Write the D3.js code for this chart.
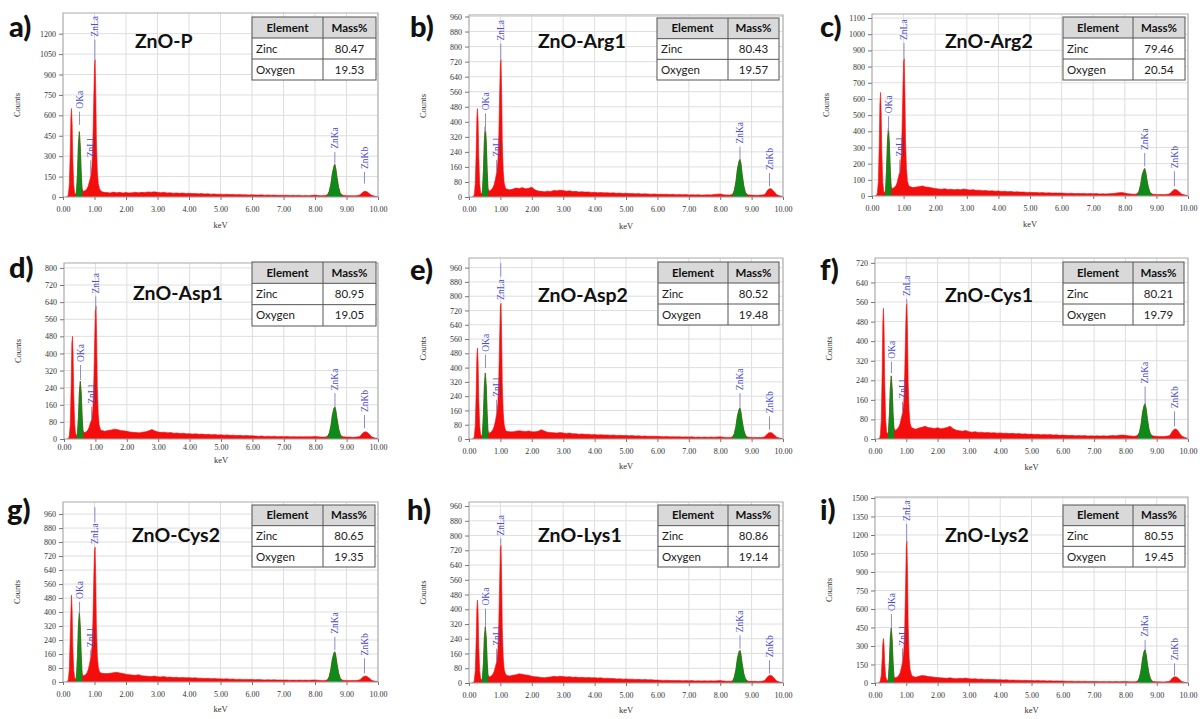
<!DOCTYPE html>
<html><head><meta charset="utf-8">
<script src="https://cdn.jsdelivr.net/npm/d3@7"></script>
<style>body{margin:0;background:#fff} svg{display:block}</style>
</head><body><svg id="c" width="1200" height="719"></svg>
<script>
// ---------------- DATA ----------------
const sampleNames = ['ZnO-P','ZnO-Arg1','ZnO-Arg2','ZnO-Asp1','ZnO-Asp2','ZnO-Cys1','ZnO-Cys2','ZnO-Lys1','ZnO-Lys2'];
const panelLetters = ['a)','b)','c)','d)','e)','f)','g)','h)','i)'];
const zincMass   = ['80.47','80.43','79.46','80.95','80.52','80.21','80.65','80.86','80.55'];
const oxygenMass = ['19.53','19.57','20.54','19.05','19.48','19.79','19.35','19.14','19.45'];
const tableHeader = ['Element','Mass%'];
const tableRows = ['Zinc','Oxygen'];

const xTicks = [0,1,2,3,4,5,6,7,8,9,10];
const yTickStep = [150,80,100,80,80,80,80,80,150];
const yTickMax  = [1200,960,1100,800,960,720,960,960,1500];

// energy channels (keV)
const energyLow = [0.10,0.14,0.17,0.20,0.23,0.25,0.27,0.29,0.31,0.34,0.37,0.40,0.43,0.46,0.49,0.52,0.55,0.58,0.61,0.64,0.68,0.72,0.76,0.80,0.84,0.88,0.92,0.95,0.98,1.00,1.02,1.04,1.06,1.09,1.12,1.16,1.20,1.25,1.30];
const energyMid = [1.4,1.5,1.6,1.7,1.8,1.9,2.0,2.1,2.2,2.3,2.4,2.5,2.6,2.7,2.8,2.9,3.0,3.1,3.2,3.3,3.4,3.5,3.6,3.7,3.8,3.9,4.0,4.1,4.2,4.3,4.4,4.5,4.6,4.7,4.8,4.9,5.0,5.1,5.2,5.3,5.4,5.5,5.6,5.7,5.8,5.9,6.0,6.1,6.2,6.3,6.4,6.5,6.6,6.7,6.8,6.9,7.0,7.1,7.2,7.3,7.4,7.5,7.6,7.7,7.8,7.9,8.0,8.1,8.2,8.3];
const energyHigh = [8.35,8.40,8.45,8.50,8.55,8.60,8.63,8.66,8.70,8.75,8.80,8.85,8.90,9.00,9.10,9.20,9.30,9.40,9.45,9.50,9.55,9.60,9.65,9.70,9.75,9.80,9.90,10.00];

// counts per panel (low / mid / high energy segments)
const countsA = [0,0,20,90,330,580,650,540,290,90,30,18,45,170,390,480,360,160,60,40,45,50,60,80,115,150,230,420,760,960,1010,780,420,190,100,60,45,38,34,
 33,30,36,31,34,29,33,30,32,35,31,34,33,37,35,38,34,32,35,30,31,28,30,27,29,26,27,25,26,23,25,22,24,21,22,20,21,19,20,18,19,17,18,16,17,15,16,15,14,16,13,15,13,14,12,13,12,13,11,12,11,12,10,11,10,12,14,11,10,11,
 12,18,40,90,170,225,240,210,140,70,30,16,12,10,10,9,10,13,20,32,40,42,38,30,20,12,6,3];
const countsB = [0,0,15,70,250,420,470,400,220,70,25,15,35,140,300,375,290,130,45,30,35,40,50,65,95,130,190,330,580,710,730,560,300,140,75,48,42,40,38,
 42,48,45,50,44,47,52,38,32,30,28,31,29,35,33,36,34,31,33,29,30,27,28,26,27,24,25,23,24,22,23,21,22,20,21,19,20,18,19,17,18,16,17,16,15,16,14,15,14,15,13,14,12,13,12,13,11,12,11,12,10,11,12,11,13,15,16,12,11,10,
 12,16,35,80,150,190,200,180,120,60,25,14,11,10,9,9,10,12,20,34,42,45,40,32,22,12,6,3];
const countsC = [0,0,20,85,320,570,640,520,280,85,30,18,40,160,340,420,320,150,60,45,50,55,65,85,120,150,230,400,680,830,850,650,360,170,95,65,58,55,52,
 55,58,62,56,54,50,47,44,42,45,40,42,38,41,39,43,40,37,39,35,36,33,34,31,32,30,31,28,29,27,28,25,26,24,25,22,23,21,22,20,21,19,20,18,19,18,18,17,16,17,15,16,15,16,14,15,14,15,13,14,13,14,15,17,20,22,18,14,12,11,
 12,15,30,70,130,160,170,150,100,50,22,14,11,10,9,9,10,12,18,30,38,40,37,30,20,12,6,3];
const countsD = [0,0,15,70,260,450,480,400,210,70,25,15,30,100,220,270,210,95,40,30,32,35,42,55,75,90,140,270,480,600,620,470,250,120,65,45,40,38,36,
 40,42,46,44,40,38,36,33,31,30,29,32,34,38,45,37,33,31,32,29,30,27,28,26,27,24,25,23,24,22,23,21,22,20,21,19,20,18,19,17,18,16,17,15,16,15,15,14,13,14,12,13,12,13,11,12,11,12,10,11,10,11,10,11,10,11,12,10,9,9,
 10,14,28,60,115,145,150,130,90,45,20,12,10,9,9,8,9,11,16,26,32,34,32,26,18,10,5,3];
const countsE = [0,0,15,75,270,460,510,430,230,75,25,15,35,140,300,370,290,130,45,32,36,42,52,70,100,140,200,350,600,740,760,580,310,150,80,50,44,42,40,
 40,44,46,44,42,45,41,40,43,52,45,38,36,35,33,36,34,31,33,29,30,27,28,26,27,24,25,23,24,22,23,21,22,20,21,19,20,18,19,17,18,16,17,15,16,15,15,14,13,14,12,13,12,13,11,12,11,12,10,11,10,11,10,11,10,11,12,10,9,9,
 10,14,30,70,130,165,173,150,100,50,22,12,10,9,9,8,9,11,18,28,35,37,34,27,18,10,5,3];
const countsF = [0,0,15,75,280,480,534,450,240,80,30,20,30,100,210,258,200,95,45,35,38,42,50,62,85,106,150,270,450,540,554,430,230,115,65,48,45,42,40,
 45,48,52,47,45,43,46,42,44,47,52,42,36,34,32,35,30,28,30,27,28,26,27,25,26,24,25,23,24,22,23,21,22,20,21,19,20,18,19,17,18,17,18,16,17,15,16,15,14,15,13,14,13,14,12,13,12,13,12,13,12,13,14,13,15,16,15,13,12,11,
 13,16,28,60,110,138,144,125,85,42,20,14,12,11,10,10,11,13,20,32,39,41,38,30,20,12,6,3];
const countsG = [0,0,15,70,260,400,496,410,210,70,25,15,35,150,320,400,310,140,50,35,38,42,52,70,100,140,200,350,610,750,771,590,320,150,85,58,52,50,48,
 48,50,53,56,52,48,45,42,40,38,42,36,34,33,31,34,30,29,31,27,28,26,27,25,26,24,25,23,24,22,22,20,21,19,20,18,18,17,18,16,17,15,16,15,15,14,15,13,14,13,12,13,12,13,11,12,11,12,10,11,10,11,10,11,10,11,12,10,9,9,
 10,14,30,70,130,165,173,150,100,50,22,12,10,9,9,8,9,11,16,26,32,34,32,26,18,10,5,3];
const countsH = [0,0,15,65,240,400,450,380,200,65,25,15,30,110,250,304,240,110,45,32,35,40,48,62,88,114,180,330,580,730,747,570,300,140,75,50,42,40,38,
 42,45,50,47,44,42,36,34,33,30,29,31,33,36,34,37,35,33,34,31,32,30,31,29,30,28,29,27,28,25,26,24,25,22,23,21,22,20,21,19,20,18,19,17,18,16,16,15,14,15,13,14,13,14,12,13,12,13,11,12,11,12,11,12,11,12,13,11,10,10,
 10,14,32,72,135,170,177,155,105,52,23,13,10,9,9,8,9,12,20,32,40,42,38,30,20,11,5,3];
const countsI = [0,0,20,60,200,320,360,300,160,55,25,18,45,170,370,446,340,150,55,40,45,50,60,80,120,170,260,450,820,1100,1150,880,470,210,110,70,55,50,46,
 55,60,58,52,50,46,44,42,40,38,42,37,35,38,36,40,35,33,34,31,32,29,30,28,29,26,27,25,26,23,24,22,23,21,22,20,21,19,20,18,19,17,18,16,17,16,16,15,14,15,13,14,13,14,12,13,12,13,11,12,11,12,11,12,11,12,13,11,10,10,
 12,18,45,105,200,260,270,235,160,80,35,16,12,10,10,9,10,14,24,40,48,50,46,36,24,13,6,3];
const allCounts = [countsA,countsB,countsC,countsD,countsE,countsF,countsG,countsH,countsI];

// peak identification markers: [line bottom, line top, (label bottom if label sits below the line)] in counts
const markerNames = ['OKa','ZnLl','ZnLa','ZnKa','ZnKb'];
const markerKeV   = [0.525, 0.88, 1.012, 8.63, 9.57];
const markersA = [[530,627],[170,270],[1010,1156],[246,332],[98,184]];
const markersB = [[348,445],[127,198],[728,816],[198,268],[57,127]];
const markersC = [[400,493],[142,225],[850,946],[183,266],[60,153]];
const markersD = [[276,346],[89,151],[603,666],[151,214],[50,112]];
const markersE = [[397,472],[145,220],[910,985,768],[173,257],[52,127]];
const markersF = [[269,316],[106,153],[554,572],[140,215],[52,113]];
const markersG = [[391,458],[144,182],[914,999,778],[182,258],[49,135]];
const markersH = [[304,404],[114,186],[748,784],[186,259],[51,123]];
const markersI = [[446,560],[186,280],[1150,1290],[270,350],[60,160]];
const allMarkers = [markersA,markersB,markersC,markersD,markersE,markersF,markersG,markersH,markersI];

// green (identified) regions in keV
const greenRanges = [[0.415,0.61],[8.40,8.86]];

// ---------------- LAYOUT ----------------
const layout = [
 {l:63, t:13, r:378, b:197, ymax:1352, tab:[252,17,376,80], div:323, let:[9,37],  tit:[135,48], xl:31, tp:9},
 {l:469,t:15, r:783, b:197, ymax:968,  tab:[657,18,779,80], div:728, let:[410,37], tit:[538,48], xl:32, tp:9},
 {l:872,t:14, r:1188,b:196, ymax:1125, tab:[1063,17,1185,80],div:1133,let:[820,37], tit:[945,48], xl:31, tp:9},
 {l:64, t:263,r:378, b:439, ymax:823,  tab:[252,262,376,326],div:323,let:[9,278],  tit:[133,300],xl:24, tp:5},
 {l:469,t:258,r:783, b:439, ymax:1014, tab:[658,262,779,325],div:728,let:[410,280], tit:[538,302],xl:30, tp:9},
 {l:875,t:258,r:1188,b:439, ymax:740,  tab:[1063,262,1184,325],div:1133,let:[820,280],tit:[945,302],xl:31, tp:9},
 {l:63, t:502,r:378, b:682, ymax:1029, tab:[252,505,375,567],div:323,let:[7,520],  tit:[132,542],xl:30, tp:9},
 {l:469,t:502,r:783, b:683, ymax:982,  tab:[658,505,779,567],div:728,let:[407,520], tit:[538,542],xl:30, tp:9},
 {l:875,t:497,r:1188,b:683, ymax:1508, tab:[1063,505,1185,567],div:1133,let:[820,520],tit:[945,542],xl:30, tp:9}
];

const RED = '#f40d0d', GREEN = '#0d8a1a', MARK = '#8c8cc8', MARKTXT = '#4b4bcc';
const serif = "'Liberation Serif','DejaVu Serif',serif";
const sans = "Lato,'Open Sans',sans-serif";

const keV = energyLow.concat(energyMid, energyHigh);
const svg = d3.select('#c');
const defs = svg.append('defs');

layout.forEach((L, i) => {
  const x = d3.scaleLinear().domain([0,10]).range([L.l, L.r]);
  const y = d3.scaleLinear().domain([0, L.ymax]).range([L.b, L.t]);
  const yTicks = d3.range(0, yTickMax[i] + 1, yTickStep[i]);
  const g = svg.append('g');

  // grid
  g.append('g').selectAll('line').data(xTicks).join('line')
    .attr('x1', d => x(d)).attr('x2', d => x(d)).attr('y1', L.t).attr('y2', L.b)
    .attr('stroke', '#dedede').attr('stroke-width', 1);
  g.append('g').selectAll('line').data(yTicks).join('line')
    .attr('x1', L.l).attr('x2', L.r).attr('y1', d => y(d)).attr('y2', d => y(d))
    .attr('stroke', '#dedede').attr('stroke-width', 1);

  // clip paths
  defs.append('clipPath').attr('id', 'pc' + i).append('rect')
    .attr('x', L.l).attr('y', L.t).attr('width', L.r - L.l).attr('height', L.b - L.t);
  const gc = defs.append('clipPath').attr('id', 'gc' + i);
  greenRanges.forEach(rg => gc.append('rect').attr('x', x(rg[0])).attr('y', L.t)
    .attr('width', x(rg[1]) - x(rg[0])).attr('height', L.b - L.t));

  const pts = keV.map((k, j) => [k, allCounts[i][j]]);
  const area = d3.area().x(d => x(d[0])).y0(y(0)).y1(d => y(d[1]));
  g.append('path').datum(pts).attr('d', area).attr('fill', RED).attr('stroke', RED)
    .attr('stroke-width', 0.6).attr('clip-path', `url(#pc${i})`);
  g.append('path').datum(pts).attr('d', area).attr('fill', GREEN).attr('stroke', GREEN)
    .attr('stroke-width', 0.6).attr('clip-path', `url(#gc${i})`);

  // frame
  g.append('rect').attr('x', L.l).attr('y', L.t).attr('width', L.r - L.l).attr('height', L.b - L.t)
    .attr('fill', 'none').attr('stroke', '#a9a9a9').attr('stroke-width', 1);

  // axes
  const ay = g.append('g').attr('transform', `translate(${L.l},0)`)
    .call(d3.axisLeft(y).tickValues(yTicks).tickSize(4).tickPadding(3).tickFormat(d3.format('d')));
  const ax = g.append('g').attr('transform', `translate(0,${L.b})`)
    .call(d3.axisBottom(x).tickValues(xTicks).tickSize(3).tickPadding(L.tp - 3).tickFormat(d3.format('.2f')));
  [ay, ax].forEach(a => {
    a.select('.domain').remove();
    a.selectAll('line').attr('stroke', '#777');
    a.selectAll('text').attr('font-family', serif).attr('font-size', 8).attr('fill', '#333');
  });
  g.append('text').attr('x', (L.l + L.r) / 2).attr('y', L.b + L.xl).attr('text-anchor', 'middle')
    .attr('font-family', serif).attr('font-size', 8.5).attr('fill', '#333').text('keV');
  g.append('text').attr('transform', `translate(${L.l - 43},${(L.t + L.b) / 2}) rotate(-90)`)
    .attr('text-anchor', 'middle').attr('font-family', serif).attr('font-size', 8.5).attr('fill', '#333').text('Counts');

  // peak markers
  allMarkers[i].forEach((m, j) => {
    const xx = x(markerKeV[j]);
    g.append('line').attr('x1', xx).attr('x2', xx).attr('y1', y(m[0])).attr('y2', y(m[1]))
      .attr('stroke', MARK).attr('stroke-width', 1);
    const yb = m.length > 2 ? y(m[2]) - 2 : y(m[1]) - 3;
    g.append('text').attr('transform', `translate(${xx + 3.2},${yb}) rotate(-90)`)
      .attr('font-family', serif).attr('font-size', 9.5).attr('fill', MARKTXT).text(markerNames[j]);
  });

  // title and panel letter
  g.append('text').attr('x', L.tit[0]).attr('y', L.tit[1]).attr('font-family', sans)
    .attr('font-weight', 700).attr('font-size', 19.5).attr('fill', '#111').text(sampleNames[i]);
  g.append('text').attr('x', L.let[0]).attr('y', L.let[1]).attr('font-family', sans)
    .attr('font-weight', 900).attr('font-size', 29).attr('fill', '#111').text(panelLetters[i]);

  // table
  const [tx0, ty0, tx1, ty1] = L.tab;
  const rh = (ty1 - ty0) / 3;
  const tg = g.append('g');
  tg.append('rect').attr('x', tx0).attr('y', ty0).attr('width', tx1 - tx0).attr('height', ty1 - ty0)
    .attr('fill', '#fff');
  tg.append('rect').attr('x', tx0).attr('y', ty0).attr('width', tx1 - tx0).attr('height', rh)
    .attr('fill', '#d9d9d9');
  [1, 2].forEach(k => tg.append('line').attr('x1', tx0).attr('x2', tx1)
    .attr('y1', ty0 + rh * k).attr('y2', ty0 + rh * k).attr('stroke', '#555'));
  tg.append('line').attr('x1', L.div).attr('x2', L.div).attr('y1', ty0).attr('y2', ty1).attr('stroke', '#555');
  tg.append('rect').attr('x', tx0).attr('y', ty0).attr('width', tx1 - tx0).attr('height', ty1 - ty0)
    .attr('fill', 'none').attr('stroke', '#555');
  const hdr = [[(tx0 + L.div) / 2, tableHeader[0]], [(L.div + tx1) / 2, tableHeader[1]]];
  hdr.forEach(h => tg.append('text').attr('x', h[0]).attr('y', ty0 + rh / 2 + 4).attr('text-anchor', 'middle')
    .attr('font-family', sans).attr('font-weight', 700).attr('font-size', 11.5).attr('fill', '#111').text(h[1]));
  const vals = [zincMass[i], oxygenMass[i]];
  tableRows.forEach((r, k) => {
    const yy = ty0 + rh * (k + 1) + rh / 2 + 4;
    tg.append('text').attr('x', tx0 + 4).attr('y', yy).attr('font-family', sans)
      .attr('font-size', 11.5).attr('fill', '#222').text(r);
    tg.append('text').attr('x', (L.div + tx1) / 2).attr('y', yy).attr('text-anchor', 'middle')
      .attr('font-family', sans).attr('font-size', 11.5).attr('fill', '#222').text(vals[k]);
  });
});
</script>
</body></html>
